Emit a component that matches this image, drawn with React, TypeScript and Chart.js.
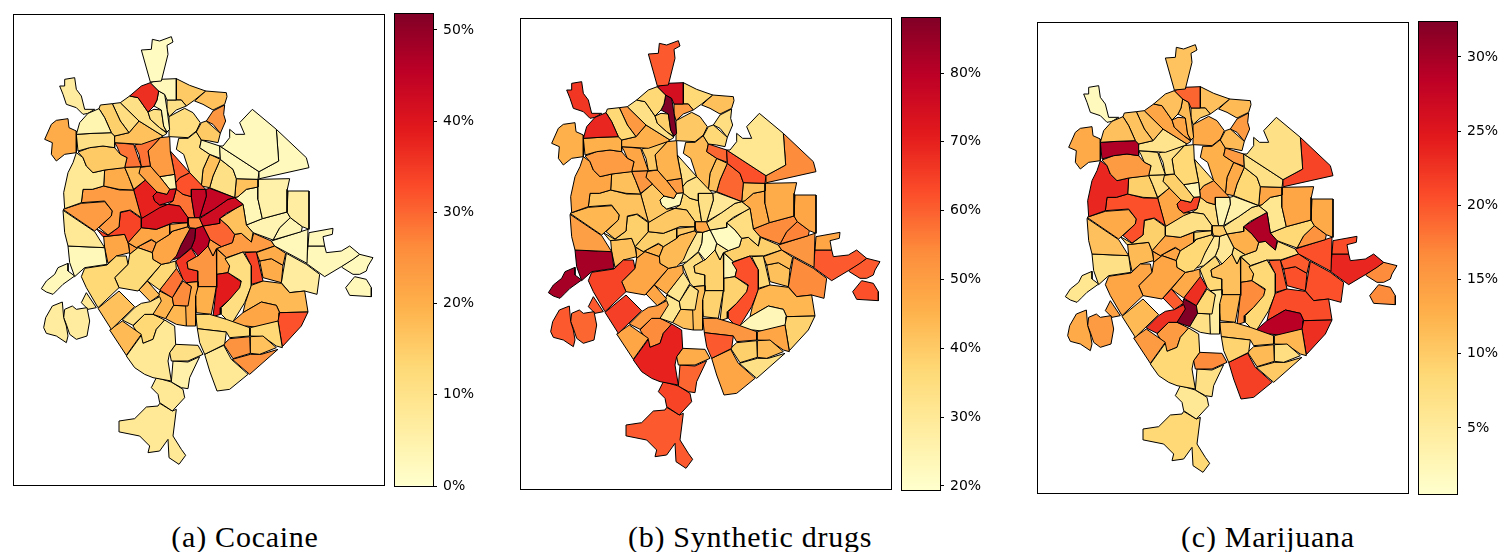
import React, { useEffect, useRef } from "react";
import { Chart, registerables } from "chart.js";
Chart.register(...registerables);

// District outlines in map units
const outlines: string[] = [
"385,72 415,70 418,40 440,45 475,32 480,48 462,58 465,85 445,165 412,168",
"412,170 440,160 490,158 490,222 462,222 455,205 437,195",
"350,210 385,180 412,170 437,195 432,222 423,240 405,258 375,215",
"437,195 455,205 462,250 470,310 462,318 452,300 445,252 423,240 432,222",
"462,222 505,222 520,240 490,252 468,272 462,250",
"490,158 530,178 578,195 545,222 520,240 505,222 490,222",
"578,195 640,200 642,212 635,235 600,252 570,235 545,225",
"600,255 635,237 632,265 638,285 622,322 600,295 580,285",
"565,290 580,285 622,322 615,350 590,345 565,342 550,318",
"468,272 515,247 540,260 562,290 550,315 525,335 470,332",
"405,258 423,250 445,252 452,300 462,320 440,305 412,280",
"322,230 350,210 375,215 405,258 412,280 440,305 462,322 450,330 378,285",
"190,325 200,290 225,262 258,248 275,275 295,320 240,322",
"140,180 155,180 155,160 185,155 190,190 205,210 215,250 245,250 225,262 210,265 190,245 160,235 150,205",
"258,248 262,237 298,233 322,285 348,320 305,330 295,320 275,275",
"298,233 322,230 378,285 348,320 322,285",
"348,320 378,285 450,330 442,335 385,355 305,350 305,330",
"95,340 115,295 130,283 165,278 168,305 190,315 190,380 155,385 130,405 115,385 118,350",
"190,325 240,322 295,320 305,330 305,365 270,360 230,365 195,375",
"195,378 230,365 270,360 305,365 322,385 342,395 335,425 275,432 240,440 220,420 210,395",
"305,350 362,355 385,422 335,424 342,395 322,385 312,362",
"365,357 442,335 405,375 412,420 385,422 378,385",
"442,335 470,332 472,378 485,445 440,452 412,420 405,375",
"335,424 383,422 378,442 397,462 362,490 347,452",
"378,425 412,420 440,452 470,490 462,505 432,498 397,462 378,442",
"440,452 485,445 490,488 470,490",
"420,510 432,498 462,505 470,490 490,488 480,525 440,537 425,525",
"190,380 210,395 220,420 240,440 275,432 272,480 238,490 210,490 205,530 155,548 152,500 165,440 180,410",
"275,432 335,424 347,452 362,492 318,490 272,480",
"210,490 238,490 272,480 320,492 362,492 385,575 352,552 322,558 318,603 285,627 258,605 295,570 298,555 275,525 205,530",
"150,550 205,532 275,527 298,555 295,570 245,615",
"150,553 245,617 275,665 165,660 155,620",
"250,608 285,628 318,603 322,560 350,553 385,578 385,605 345,650 335,625 270,632",
"385,578 440,545 465,535 500,540 525,575 525,590 480,590 430,610 385,605",
"362,492 397,462 432,498 420,510 425,525 440,537 465,535 385,578",
"345,650 385,605 430,610 470,595 470,625 430,650 415,640 370,665",
"470,595 525,590 525,602 480,615 470,620",
"418,680 430,650 470,625 480,615 525,602 530,610 505,655 490,690 470,710 445,715 420,700",
"472,375 530,440 500,455 488,470 485,445",
"500,455 530,440 578,490 535,490 535,512 510,505 490,490 488,470",
"535,490 578,490 580,510 560,575 545,575 535,512",
"490,488 510,505 535,512 545,575 525,575 500,540 465,535 480,525",
"578,490 590,487 665,515 645,520 605,548 560,575 580,510",
"645,520 665,515 690,535 672,545 640,562 620,578 620,592 570,600 560,578 605,548",
"640,565 672,545 690,535 700,597 720,620 715,648 685,622 665,625 645,600 620,578",
"545,575 560,575 570,600 548,607 530,605 525,590 525,575",
"478,702 505,655 530,607 548,607 545,640 535,665 500,695",
"548,607 570,600 590,640 585,660 555,690 535,665 545,640",
"570,600 620,592 620,578 645,600 665,625 658,650 625,662 590,640",
"590,640 625,662 610,668 600,690 585,660",
"630,360 650,335 650,310 668,325 695,325 680,290 718,250 790,310 797,405 738,437 620,360",
"790,310 880,395 888,425 740,458 738,437 797,405",
"620,360 738,437 735,460 670,458 660,430 622,400",
"565,342 620,360 622,397 590,385 560,365",
"497,337 525,337 550,317 565,342 560,365 590,385 570,430 565,480 530,440 512,385 490,370",
"590,385 622,400 600,450 590,485 565,480 570,430",
"622,400 660,430 670,458 665,515 590,485 600,450",
"670,458 735,460 735,483 700,490 675,512 665,515",
"735,460 830,458 823,490 822,558 748,578 735,520",
"700,490 735,483 735,520 748,578 700,597 690,535 665,515 675,512",
"825,495 888,495 888,610 868,602 832,575 822,558",
"700,597 748,578 822,558 832,575 800,605 780,642 720,620",
"800,605 832,575 868,602 865,617 780,642",
"775,645 885,610 882,712 785,660",
"888,620 960,607 958,625 930,632 935,660 885,660",
"885,660 935,660 940,680 985,675 1010,660 1040,685 1020,700 985,722 935,752 880,712",
"985,722 1040,685 1080,695 1065,720 1060,735 1040,745 1020,745 988,725",
"998,785 1025,752 1060,760 1075,785 1075,812 1010,808",
"165,660 275,665 282,715 215,725 185,752 170,710",
"85,788 100,765 125,745 135,725 165,712 165,735 185,750 150,775 135,790 120,805 100,798",
"92,905 98,875 118,840 148,828 152,875 160,900 165,930 160,950 130,930 100,922",
"152,875 155,850 178,840 190,850 222,845 230,885 222,930 190,940 170,925 160,895",
"205,830 220,800 250,845 225,850",
"205,752 215,727 282,717 310,690 340,690 345,715 305,755 318,785 255,845 220,785",
"305,755 345,715 350,685 375,665 418,680 420,700 445,715 375,795 318,785",
"255,847 318,795 365,842 295,910",
"290,912 328,885 385,925 340,988",
"328,882 365,845 385,832 412,827 440,812 445,825 420,865 395,865 360,898",
"378,792 403,765 440,807 412,827",
"403,765 445,715 470,710 488,705 490,728 440,792",
"440,792 490,726 510,760 478,815",
"478,815 510,765 535,782 525,840 482,838",
"520,770 555,767 555,782 548,810 548,900 520,900 518,840 535,782",
"482,838 525,840 520,900 490,895 458,878",
"440,795 478,815 482,838 458,878 420,865",
"340,990 385,928 390,952 420,940 430,910 455,882 485,900 488,955 470,980 465,1005 475,1065 420,1055 395,1045 365,1025",
"360,900 395,865 420,865 455,882 430,910 420,940 390,952 380,930",
"475,1005 470,980 488,955 555,958 570,985 525,1005",
"480,1005 525,1008 560,992 530,1055 525,1088 505,1085 475,1068",
"415,1085 430,1055 475,1068 510,1090 515,1115 478,1155 440,1130 435,1105",
"440,1132 478,1155 490,1150 480,1230 505,1270 518,1288 498,1315 468,1295 465,1240 440,1275 405,1280 410,1260 380,1230 320,1218 318,1185 365,1178 400,1143 435,1140",
"553,908 640,918 635,955 575,985 560,950",
"548,865 590,865 640,880 710,905 710,930 650,935 640,918 553,908",
"575,985 632,958 655,1000 700,1040 705,1045 650,1090 612,1095 590,1035",
"632,955 650,938 710,932 712,982 660,998",
"712,932 750,930 790,965 740,985 712,982",
"658,1000 712,985 745,985 795,970 710,1045",
"712,905 795,885 808,965 790,960 750,932 712,930",
"800,860 885,858 865,900 808,962 795,885",
"658,888 690,860 745,828 790,838 800,860 798,885 740,905 700,900 672,905",
"690,860 697,830 715,778 750,765 805,772 830,800 875,795 885,858 800,860 790,838 745,828",
"636,698 690,678 715,720 715,780 695,830 655,895 625,865 625,845 650,820 680,785 685,765 645,740 650,720",
"612,745 645,740 685,768 680,788 650,820 622,845 622,865 600,872 610,785",
"555,782 610,782 595,865 550,860 545,810",
"522,708 550,692 555,690 585,660 600,690 610,668 612,745 610,782 555,782 555,735 525,728",
"610,668 640,695 650,720 645,740 612,745",
"695,680 730,678 750,765 715,775 715,720",
"730,680 785,660 818,682 810,718 775,698 740,705",
"740,705 775,698 810,718 805,770 750,755",
"820,682 880,715 920,745 912,805 875,795 830,800 805,770",
"488,705 505,692 535,667 550,692 522,708 525,728 555,735 555,767 520,770 510,760",
"665,625 685,622 715,648 722,622 775,645 785,660 730,678 690,678 640,695 612,668 625,662 658,650",
"272,632 335,625 345,650 350,680 310,690 285,712 275,665",
"347,652 370,665 415,642 430,650 418,680 375,665 350,685",
];

const cocaine: number[] = [
1.6,2.6,36.2,2.6,10.4,15.5,17,24.3,15.5,11.4,10.4,10.4,
4.1,6.7,14.5,11.4,17,20.7,10.4,15.5,28.5,28.5,23.3,18.1,22.3,4.1,40.4,7.8,20.7,23.3,23.3,7.8,33.6,40.4,37.8,21.7,21.7,21.7,
31,32,44,28.5,44,42.4,17,25.9,51.7,45.5,30,23.3,
2,2,2.6,3.6,11.4,17,10.4,17,5.2,3,6.2,4,3.6,2.6,2.6,2.6,2,2.6,
2.6,2.6,6.7,6.7,7.8,13,12.4,17,18.1,10.4,17.6,13,28.5,25.9,20.7,18.6,19.1,7.8,13,10.4,5.2,7.8,7.8,
10.4,13,7.8,24.8,17,24.8,13,32,21.7,18.1,11.4,38.8,19.7,24.3,21.7,33.6,20.7,20.7,6.7,35.2,23.3,21.7,23.3,
];

const syntheticDrugs: number[] = [
60.6,74.3,36.5,88,50.3,36.5,42,34.5,36.5,40,38.6,33,
68.8,66,36.5,51,45.5,45.5,45.5,50.3,48.2,40,44.8,51.6,48.2,50.3,22.8,48.2,42,41.4,44.1,49.6,38.6,40,40,38.6,40,43.4,
33,33,33,36.5,29.7,33,34.5,48.2,29.7,22.1,21.5,29.7,
31,53.7,62,59,43.4,42,59,42,46.8,46.8,48.2,53.7,55,51.6,48.2,60.6,60.6,62,
82.5,82.5,60.6,59,60.6,64,48.2,64.7,48.2,50.3,48.2,46.8,31,33,42,42,31,69.5,53.7,46.8,59,64,60.6,
60.6,51.6,48.2,38.6,43.4,33,48.2,38,23.5,44.1,62,38,38,38,24,36.5,43.4,42,53.7,34.5,38.6,42,45,
];

const marijuana: number[] = [
10.7,19,11,11.7,10,11,11.7,14.9,11.7,13.3,13.9,13.9,
11,1.8,10.7,11,6.3,13.3,29.2,14.9,6.9,6.9,8.5,7.5,9.4,2.5,21.2,23.4,9.4,20.3,13.3,11,9.4,6.9,13.9,13.9,8.5,8.5,
8.5,14.9,2.8,7.5,3.7,6.9,29.2,10,5.3,5.3,12.6,7.5,
6.9,21.2,6.9,14.9,12.6,13.3,8.5,13.9,13.9,6,13.3,8.5,15.8,20.3,20.6,23.4,16.5,16.5,
6.9,6,13.3,14.9,14.2,13.9,13.9,11.7,14.9,22.8,19.6,13.3,22.8,8.5,4.4,6.9,32.3,8.5,14.9,16.5,6.9,5.6,8.5,
9,11,21.5,11.7,7.5,10,12,22.8,28.5,20.6,8.5,16.5,12,11,11.7,19.6,19.6,20.3,20.3,8.5,7.5,11.7,13.9,
];

const cocaineTicks = [0, 10, 20, 30, 40, 50];
const syntheticTicks = [20, 30, 40, 50, 60, 70, 80];
const marijuanaTicks = [5, 10, 15, 20, 25, 30];

const ylOrRd = ["#ffffcc", "#ffeda0", "#fed976", "#feb24c", "#fd8d3c", "#fc4e2a", "#e31a1c", "#bd0026", "#800026"];

function hex(c: string) {
  return [1, 3, 5].map((i) => parseInt(c.slice(i, i + 2), 16));
}
function colour(t: number) {
  const p = Math.min(Math.max(t, 0), 1) * (ylOrRd.length - 1);
  const i = Math.min(Math.floor(p), ylOrRd.length - 2);
  const a = hex(ylOrRd[i]);
  const b = hex(ylOrRd[i + 1]);
  const f = p - i;
  return `rgb(${a.map((v, k) => Math.round(v + (b[k] - v) * f)).join(",")})`;
}

// Frame around the plot area: the maps' frame sits just inside it, the colour bars' just outside
function framePlugin(inset: number) {
  return {
    id: "frame",
    afterDraw(chart: any) {
      const { ctx, chartArea: a } = chart;
      ctx.save();
      ctx.strokeStyle = "#000";
      ctx.lineWidth = 1;
      ctx.strokeRect(a.left + inset, a.top + inset, a.right - a.left - 2 * inset, a.bottom - a.top - 2 * inset);
      ctx.restore();
    },
  };
}

function MapPanel({ left, top, values, min, max }: any) {
  const ref = useRef<HTMLCanvasElement>(null);
  useEffect(() => {
    const chart = new Chart(ref.current!, {
      type: "scatter",
      data: {
        datasets: outlines.map((s, i) => {
          const pts = s.split(" ").map((p) => {
            const [x, y] = p.split(",").map(Number);
            return { x, y };
          });
          return {
            data: [...pts, pts[0]],
            showLine: true,
            fill: "shape",
            tension: 0,
            pointRadius: 0,
            borderWidth: 1,
            borderColor: "#000",
            backgroundColor: colour((values[i] - min) / (max - min)),
          };
        }),
      } as any,
      options: {
        animation: false,
        responsive: false,
        layout: { padding: 1 },
        plugins: { legend: { display: false }, tooltip: { enabled: false } },
        scales: {
          x: { type: "linear", min: 0, max: 1116, display: false },
          y: { type: "linear", min: -36, max: 1380, reverse: true, display: false },
        },
      } as any,
      plugins: [framePlugin(0.5)],
    });
    return () => chart.destroy();
  }, []);
  return <canvas ref={ref} width={374} height={474} style={{ position: "absolute", left, top, display: "block" }} />;
}

function ColorBar({ left, top, min, max, ticks }: any) {
  const ref = useRef<HTMLCanvasElement>(null);
  useEffect(() => {
    const levels = 236;
    const step = (max - min) / levels;
    const datasets = Array.from({ length: levels }, (_, i) => ({
      data: [[min + i * step, Math.min(max, min + (i + 1.6) * step)]],
      backgroundColor: colour((i + 0.5) / levels),
      borderWidth: 0,
      barPercentage: 1,
      categoryPercentage: 1,
      grouped: false,
    }));
    const chart = new Chart(ref.current!, {
      type: "bar",
      data: { labels: [""], datasets } as any,
      options: {
        animation: false,
        responsive: false,
        layout: { padding: { top: 12, bottom: 12, left: 1, right: 0 } },
        plugins: { legend: { display: false }, tooltip: { enabled: false } },
        scales: {
          x: { display: false, grid: { display: false } },
          y: {
            position: "right",
            min,
            max,
            grid: { drawOnChartArea: false, tickLength: 4, tickColor: "#000", tickWidth: 1 },
            border: { display: false },
            afterBuildTicks: (s: any) => {
              s.ticks = ticks.map((value: number) => ({ value }));
            },
            afterFit: (s: any) => {
              s.width = 60;
              s.paddingTop = 0;
              s.paddingBottom = 0;
            },
            ticks: {
              color: "#000",
              padding: 6,
              font: { family: "'DejaVu Sans'", size: 14 },
              callback: (v: any) => `${v}%`,
            },
          },
        },
      } as any,
      plugins: [framePlugin(-0.5)],
    });
    return () => chart.destroy();
  }, []);
  return <canvas ref={ref} width={99} height={496} style={{ position: "absolute", left, top: top - 11, display: "block" }} />;
}

function Caption({ x, children }: any) {
  return (
    <div
      style={{
        position: "absolute",
        left: x - 200,
        width: 400,
        top: 520,
        textAlign: "center",
        fontFamily: "'Liberation Serif', serif",
        fontSize: 30,
        letterSpacing: 0.75,
        lineHeight: "34px",
        color: "#000",
        whiteSpace: "nowrap",
      }}
    >
      {children}
    </div>
  );
}

export default function App() {
  useEffect(() => {
    document.body.style.margin = "0";
  }, []);
  return (
    <div style={{ position: "absolute", left: 0, top: 0, width: 1501, height: 552, overflow: "hidden", background: "#fff" }}>
      <MapPanel left={12} top={13} values={cocaine} min={0} max={51.75} />
      <ColorBar left={394} top={13} min={0} max={51.75} ticks={cocaineTicks} />
      <MapPanel left={519} top={17} values={syntheticDrugs} min={19.4} max={88} />
      <ColorBar left={901} top={17} min={19.4} max={88} ticks={syntheticTicks} />
      <MapPanel left={1036} top={21} values={marijuana} min={0.55} max={32.35} />
      <ColorBar left={1418} top={21} min={0.55} max={32.35} ticks={marijuanaTicks} />
      <Caption x={245}>(a) Cocaine</Caption>
      <Caption x={750}>(b) Synthetic drugs</Caption>
      <Caption x={1268}>(c) Marijuana</Caption>
    </div>
  );
}
